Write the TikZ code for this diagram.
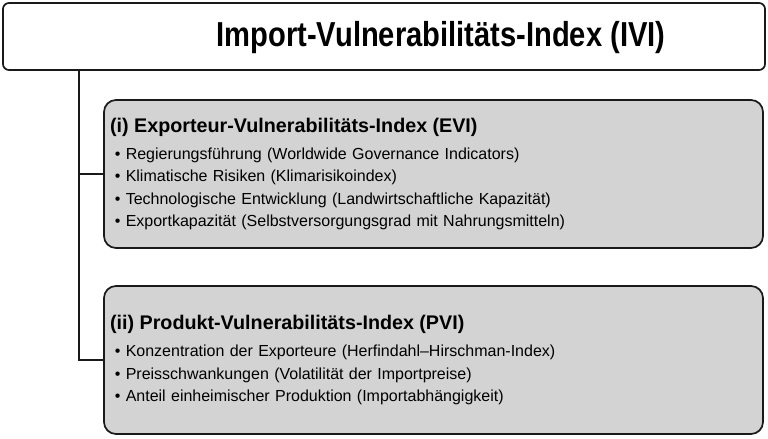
\documentclass[tikz,border=0pt]{standalone}
\usepackage{fontspec}
\setmainfont{Liberation Sans}
\newfontfamily\titlefont{Liberation Sans}[FakeStretch=0.84]
\usetikzlibrary{positioning}
\definecolor{boxgray}{RGB}{211,211,211}
\definecolor{edgegray}{RGB}{25,25,25}
\tikzset{
  indexbox/.style={draw=edgegray,line width=1.3pt,rounded corners=9pt,fill=boxgray,
    minimum width=494.25pt,minimum height=111pt,text width=485pt,align=left,
    inner sep=4.5pt,font=\fontsize{12}{16.8}\selectfont},
  trunkline/.style={edgegray,line width=1.2pt}
}
\newcommand{\boxheading}[1]{{\fontsize{14.8}{18}\selectfont\bfseries #1}\\[3.5pt]}
\newcommand{\bulletitem}{\hspace*{3.5pt}•\ }
\begin{document}
\begin{tikzpicture}[x=0.75pt,y=-0.75pt]
  \useasboundingbox (0,0) rectangle (768,439);
  \node[draw=edgegray,line width=1.3pt,rounded corners=4.5pt,fill=white,
    minimum width=571.5pt,minimum height=50.25pt] (ivi) at (384,36.5) {};
  \node[font=\titlefont\fontsize{26}{30}\selectfont\bfseries] (ivititle) at (441,37.5)
    {Import-Vulnerabilitäts-Index (IVI)};
  \node[indexbox] (evi) at (433.5,174) {\boxheading{(i) Exporteur-Vulnerabilitäts-Index (EVI)}
    \bulletitem Regierungsführung (Worldwide Governance Indicators)\\
    \bulletitem Klimatische Risiken (Klimarisikoindex)\\
    \bulletitem Technologische Entwicklung (Landwirtschaftliche Kapazität)\\
    \bulletitem Exportkapazität (Selbstversorgungsgrad mit Nahrungsmitteln)};
  \node[indexbox] (pvi) at (433.5,360) {\boxheading{(ii) Produkt-Vulnerabilitäts-Index (PVI)}
    \bulletitem Konzentration der Exporteure (Herfindahl–Hirschman-Index)\\
    \bulletitem Preisschwankungen (Volatilität der Importpreise)\\
    \bulletitem Anteil einheimischer Produktion (Importabhängigkeit)};
  \coordinate (trunk) at (ivi.south -| 79,0);
  \draw[trunkline] (trunk) |- (evi.west);
  \draw[trunkline] (trunk) |- (pvi.west);
\end{tikzpicture}
\end{document}
